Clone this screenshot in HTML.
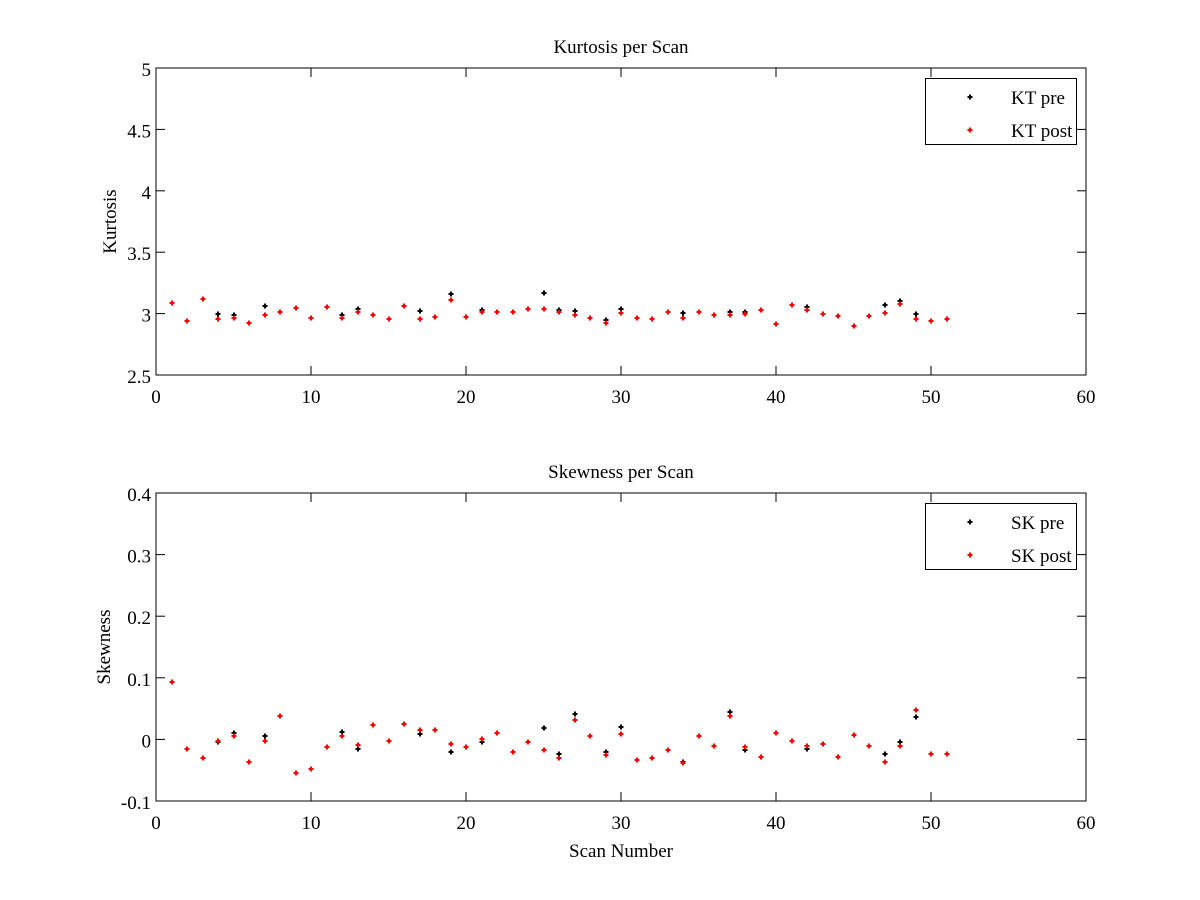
<!DOCTYPE html>
<html><head><meta charset="utf-8"><style>
html,body{margin:0;padding:0;background:#fff;}
svg{display:block;font-family:"Liberation Serif",serif;}
</style></head><body>
<svg id="fig" width="1200" height="900" xmlns="http://www.w3.org/2000/svg"></svg>
<script>
const scans = Array.from({length:51},(_,i)=>i+1);
const ktPre = [3.09,2.943,3.122,3.0,2.986,2.927,3.06,3.016,3.049,2.967,3.057,2.986,3.035,2.992,2.96,3.065,3.024,2.976,3.163,2.976,3.033,3.016,3.016,3.041,3.171,3.033,3.024,2.967,2.946,3.041,2.967,2.96,3.016,3.008,3.016,2.992,3.016,3.016,3.033,2.919,3.073,3.052,3.0,2.984,2.902,2.984,3.073,3.1,3.0,2.943,2.96];
const ktPost = [3.09,2.943,3.122,2.96,2.967,2.927,2.992,3.016,3.049,2.967,3.057,2.967,3.016,2.992,2.96,3.065,2.96,2.976,3.114,2.976,3.016,3.016,3.016,3.041,3.041,3.016,2.992,2.967,2.927,3.005,2.967,2.96,3.016,2.967,3.016,2.992,2.992,3.0,3.033,2.919,3.073,3.033,3.0,2.984,2.902,2.984,3.008,3.081,2.96,2.943,2.96];
const skPre = [0.093,-0.016,-0.030,-0.004,0.010,-0.036,0.005,0.038,-0.054,-0.048,-0.013,0.012,-0.015,0.023,-0.002,0.025,0.008,0.016,-0.021,-0.013,-0.005,0.011,-0.021,-0.005,0.018,-0.023,0.041,0.005,-0.021,0.020,-0.033,-0.031,-0.018,-0.036,0.005,-0.011,0.044,-0.018,-0.028,0.010,-0.003,-0.016,-0.007,-0.028,0.007,-0.010,-0.023,-0.004,0.036,-0.023,-0.023];
const skPost = [0.093,-0.016,-0.030,-0.003,0.005,-0.036,-0.002,0.038,-0.054,-0.048,-0.013,0.005,-0.009,0.023,-0.002,0.025,0.015,0.016,-0.008,-0.013,0.0,0.011,-0.021,-0.005,-0.018,-0.030,0.031,0.005,-0.026,0.008,-0.033,-0.031,-0.018,-0.038,0.005,-0.011,0.038,-0.013,-0.028,0.010,-0.003,-0.011,-0.007,-0.028,0.007,-0.010,-0.036,-0.011,0.048,-0.023,-0.023];
const xTicks = [0,10,20,30,40,50,60];
const ktTicks = [2.5,3,3.5,4,4.5,5];
const ktTickLabels = ["2.5","3","3.5","4","4.5","5"];
const skTicks = [-0.1,0,0.1,0.2,0.3,0.4];
const skTickLabels = ["-0.1","0","0.1","0.2","0.3","0.4"];

const NS="http://www.w3.org/2000/svg";
const svg=document.getElementById('fig');
const FS=19;
function mk(tag,attrs,parent){const e=document.createElementNS(NS,tag);for(const k in attrs)e.setAttribute(k,attrs[k]);(parent||svg).appendChild(e);return e;}

function panel(cfg){
  const L=156,R=1086,T=cfg.top,B=cfg.bottom;
  const g=mk('g',{});
  
  
  const xs=v=>L+(v-0)/(60-0)*(R-L);
  const ys=v=>B-(v-cfg.ymin)/(cfg.ymax-cfg.ymin)*(B-T);
  const box=mk('rect',{x:L,y:T,width:R-L,height:B-T,fill:'none',stroke:'#000','stroke-width':1},g);
  
  
  xTicks.forEach(t=>{
    const x=xs(t);
    mk('line',{x1:x,y1:B,x2:x,y2:B-9,stroke:'#000'},g);
    mk('line',{x1:x,y1:T,x2:x,y2:T+9,stroke:'#000'},g);
    const tx=mk('text',{x:x,y:B+28,'font-size':FS,'text-anchor':'middle'},g);
    tx.textContent=String(t);
    
    
  });
  cfg.ticks.forEach((t,i)=>{
    const y=ys(t);
    mk('line',{x1:L,y1:y,x2:L+9,y2:y,stroke:'#000'},g);
    mk('line',{x1:R,y1:y,x2:R-9,y2:y,stroke:'#000'},g);
    const tx=mk('text',{x:L-5,y:y+8,'font-size':FS,'text-anchor':'end'},g);
    tx.textContent=cfg.labels[i];
    
    
  });
  const title=mk('text',{x:(L+R)/2,y:T-15,'font-size':FS,'text-anchor':'middle'},g);
  title.textContent=cfg.title;
  
  
  const yl=mk('text',{x:0,y:0,'font-size':FS,'text-anchor':'middle',transform:`translate(${cfg.ylx},${(T+B)/2}) rotate(-90)`},g);
  yl.textContent=cfg.ylabel;
  
  
  function marker(x,y,color,parent){
    return mk('path',{d:`M${x-1} ${y-2.5}h2v1.5h1.5v2h-1.5v1.5h-2v-1.5h-1.5v-2h1.5z`,fill:color},parent);
  }
  [[cfg.pre,'#000','pre'],[cfg.post,'#f00','post']].forEach(([arr,c,n])=>{
    const sg=mk('g',{},g);
    
    
    arr.forEach((v,i)=>{
      const m=marker(Math.round(xs(scans[i])),Math.round(ys(v)),c,sg);
      
      
    });
  });
  const lg=mk('g',{},g);
  
  
  const lt=T+10;
  mk('rect',{x:925.5,y:lt+0.5,width:151,height:66,fill:'#fff',stroke:'#000'},lg);
  [[cfg.preName,'#000',lt+19],[cfg.postName,'#f00',lt+52]].forEach(([nm,c,y])=>{
    const m=marker(970,y,c,lg);
    
    
    const t=mk('text',{x:1011,y:y+7,'font-size':FS},lg);
    t.textContent=nm;
    
    
  });
  if(cfg.xlabel){
    const xl=mk('text',{x:(L+R)/2,y:B+56,'font-size':FS,'text-anchor':'middle'},g);
    xl.textContent=cfg.xlabel;
    
    
  }
}
panel({name:'kurtosis-panel',top:68,bottom:375,ymin:2.5,ymax:5,ticks:ktTicks,labels:ktTickLabels,title:'Kurtosis per Scan',ylabel:'Kurtosis',ylx:116,pre:ktPre,post:ktPost,preName:'KT pre',postName:'KT post'});
panel({name:'skewness-panel',top:493,bottom:801,ymin:-0.1,ymax:0.4,ticks:skTicks,labels:skTickLabels,title:'Skewness per Scan',ylabel:'Skewness',ylx:110,pre:skPre,post:skPost,preName:'SK pre',postName:'SK post',xlabel:'Scan Number'})
</script>
</body></html>
